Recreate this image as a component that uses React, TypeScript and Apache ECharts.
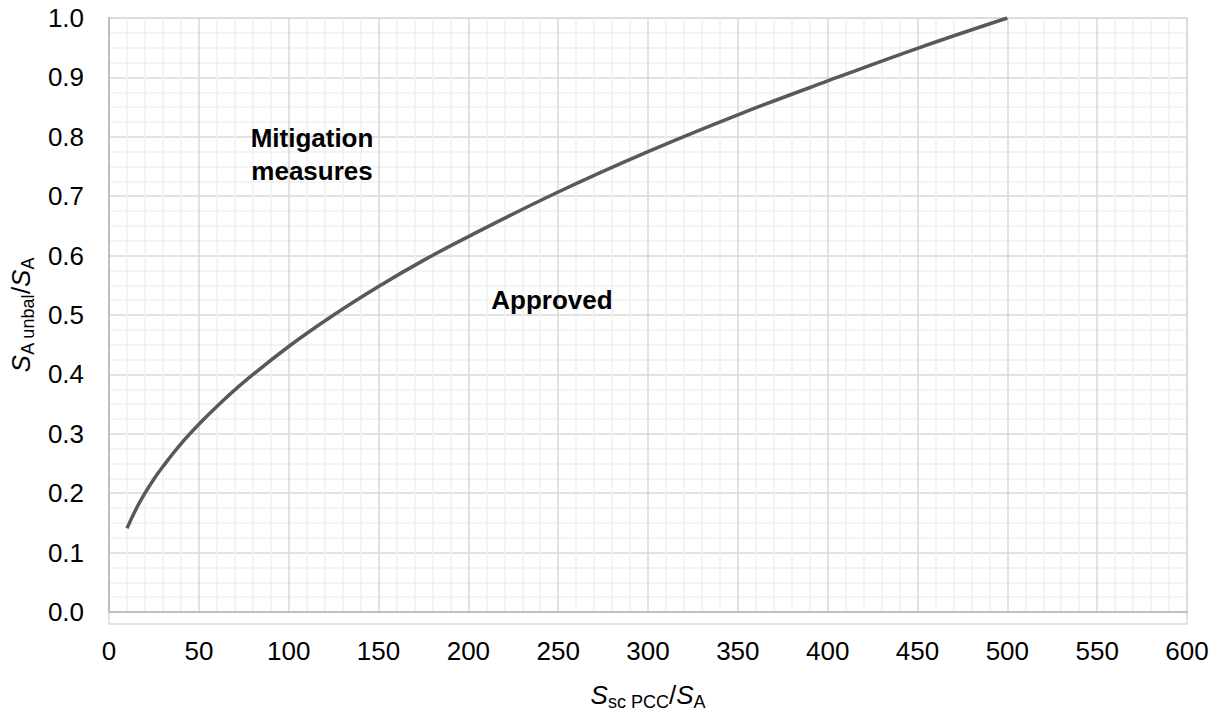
import React, { useEffect, useRef } from "react";
import * as echarts from "echarts";

const xValues = [10, 15, 20, 25, 30, 40, 50, 60, 75, 100, 125, 150, 175, 200, 250, 300, 350, 400, 450, 500];
const yValues = [0.141, 0.173, 0.2, 0.224, 0.245, 0.283, 0.316, 0.346, 0.387, 0.447, 0.5, 0.548, 0.592, 0.632, 0.707, 0.775, 0.837, 0.894, 0.949, 1.0];
const regionLabels = ["Mitigation\nmeasures", "Approved"];

const FONT = "Liberation Sans, Arial, sans-serif";

export default function App() {
  const ref = useRef<HTMLDivElement>(null);
  useEffect(() => {
    if (!ref.current) return;
    const chart = echarts.init(ref.current, null, { renderer: "svg" });
    const rich = {
      i: { fontFamily: FONT, fontSize: 26, fontStyle: "italic", color: "#000", lineHeight: 30, verticalAlign: "bottom" },
      n: { fontFamily: FONT, fontSize: 26, color: "#000", lineHeight: 30, verticalAlign: "bottom" },
      sub: { fontFamily: FONT, fontSize: 18, color: "#000", lineHeight: 18, verticalAlign: "bottom", padding: [0, 0, -3, 0] },
    };
    chart.setOption({
      animation: false,
      backgroundColor: "#fff",
      grid: { left: 109, top: 18, width: 1078, height: 606, containLabel: false },
      xAxis: {
        type: "value",
        min: 0,
        max: 600,
        interval: 50,
        name: "{i|S}{sub|sc PCC}{n|/}{i|S}{sub|A}",
        nameLocation: "middle",
        nameGap: 66,
        nameTextStyle: { rich },
        axisLine: { show: true, lineStyle: { color: "#bfbfbf", width: 2 } },
        axisTick: { show: false },
        axisLabel: { fontFamily: FONT, fontSize: 26, color: "#000", margin: 26 },
        splitLine: { show: true, lineStyle: { color: "#d9d9d9", width: 1.5 } },
        minorTick: { show: false, splitNumber: 5 },
        minorSplitLine: { show: true, lineStyle: { color: "#f0f0f0", width: 1.5 } },
      },
      yAxis: {
        type: "value",
        min: 0,
        max: 1,
        interval: 0.1,
        name: "{i|S}{sub|A unbal}{n|/}{i|S}{sub|A}",
        nameLocation: "middle",
        nameGap: 68,
        nameRotate: 90,
        nameTextStyle: { rich },
        axisLine: { show: true, lineStyle: { color: "#bfbfbf", width: 2 } },
        axisTick: { show: false },
        axisLabel: {
          fontFamily: FONT,
          fontSize: 26,
          color: "#000",
          margin: 25,
          formatter: (v: number) => v.toFixed(1),
        },
        splitLine: { show: true, lineStyle: { color: "#d9d9d9", width: 1.5 } },
        minorTick: { show: false, splitNumber: 4 },
        minorSplitLine: { show: true, lineStyle: { color: "#f0f0f0", width: 1.5 } },
      },
      graphic: [
        {
          type: "rect",
          shape: { x: 109, y: 18, width: 1078, height: 606 },
          style: { fill: "none", stroke: "#d9d9d9", lineWidth: 1.5 },
          silent: true,
          z: 0,
        },
        {
          type: "text",
          x: 312,
          y: 154,
          style: {
            text: regionLabels[0],
            fontFamily: FONT,
            fontSize: 26,
            fontWeight: "bold",
            fill: "#000",
            align: "center",
            verticalAlign: "middle",
            lineHeight: 33,
          },
          z: 10,
        },
        {
          type: "text",
          x: 552,
          y: 300,
          style: {
            text: regionLabels[1],
            fontFamily: FONT,
            fontSize: 26,
            fontWeight: "bold",
            fill: "#000",
            align: "center",
            verticalAlign: "middle",
          },
          z: 10,
        },
      ],
      series: [
        {
          type: "line",
          data: xValues.map((x, k) => [x, yValues[k]]),
          smooth: 0.4,
          showSymbol: false,
          lineStyle: { color: "#595959", width: 3.5 },
          z: 5,
        },
      ],
    });
    return () => chart.dispose();
  }, []);
  return (
    <div
      ref={ref}
      style={{ position: "fixed", left: 0, top: 0, width: 1222, height: 716 }}
    />
  );
}
